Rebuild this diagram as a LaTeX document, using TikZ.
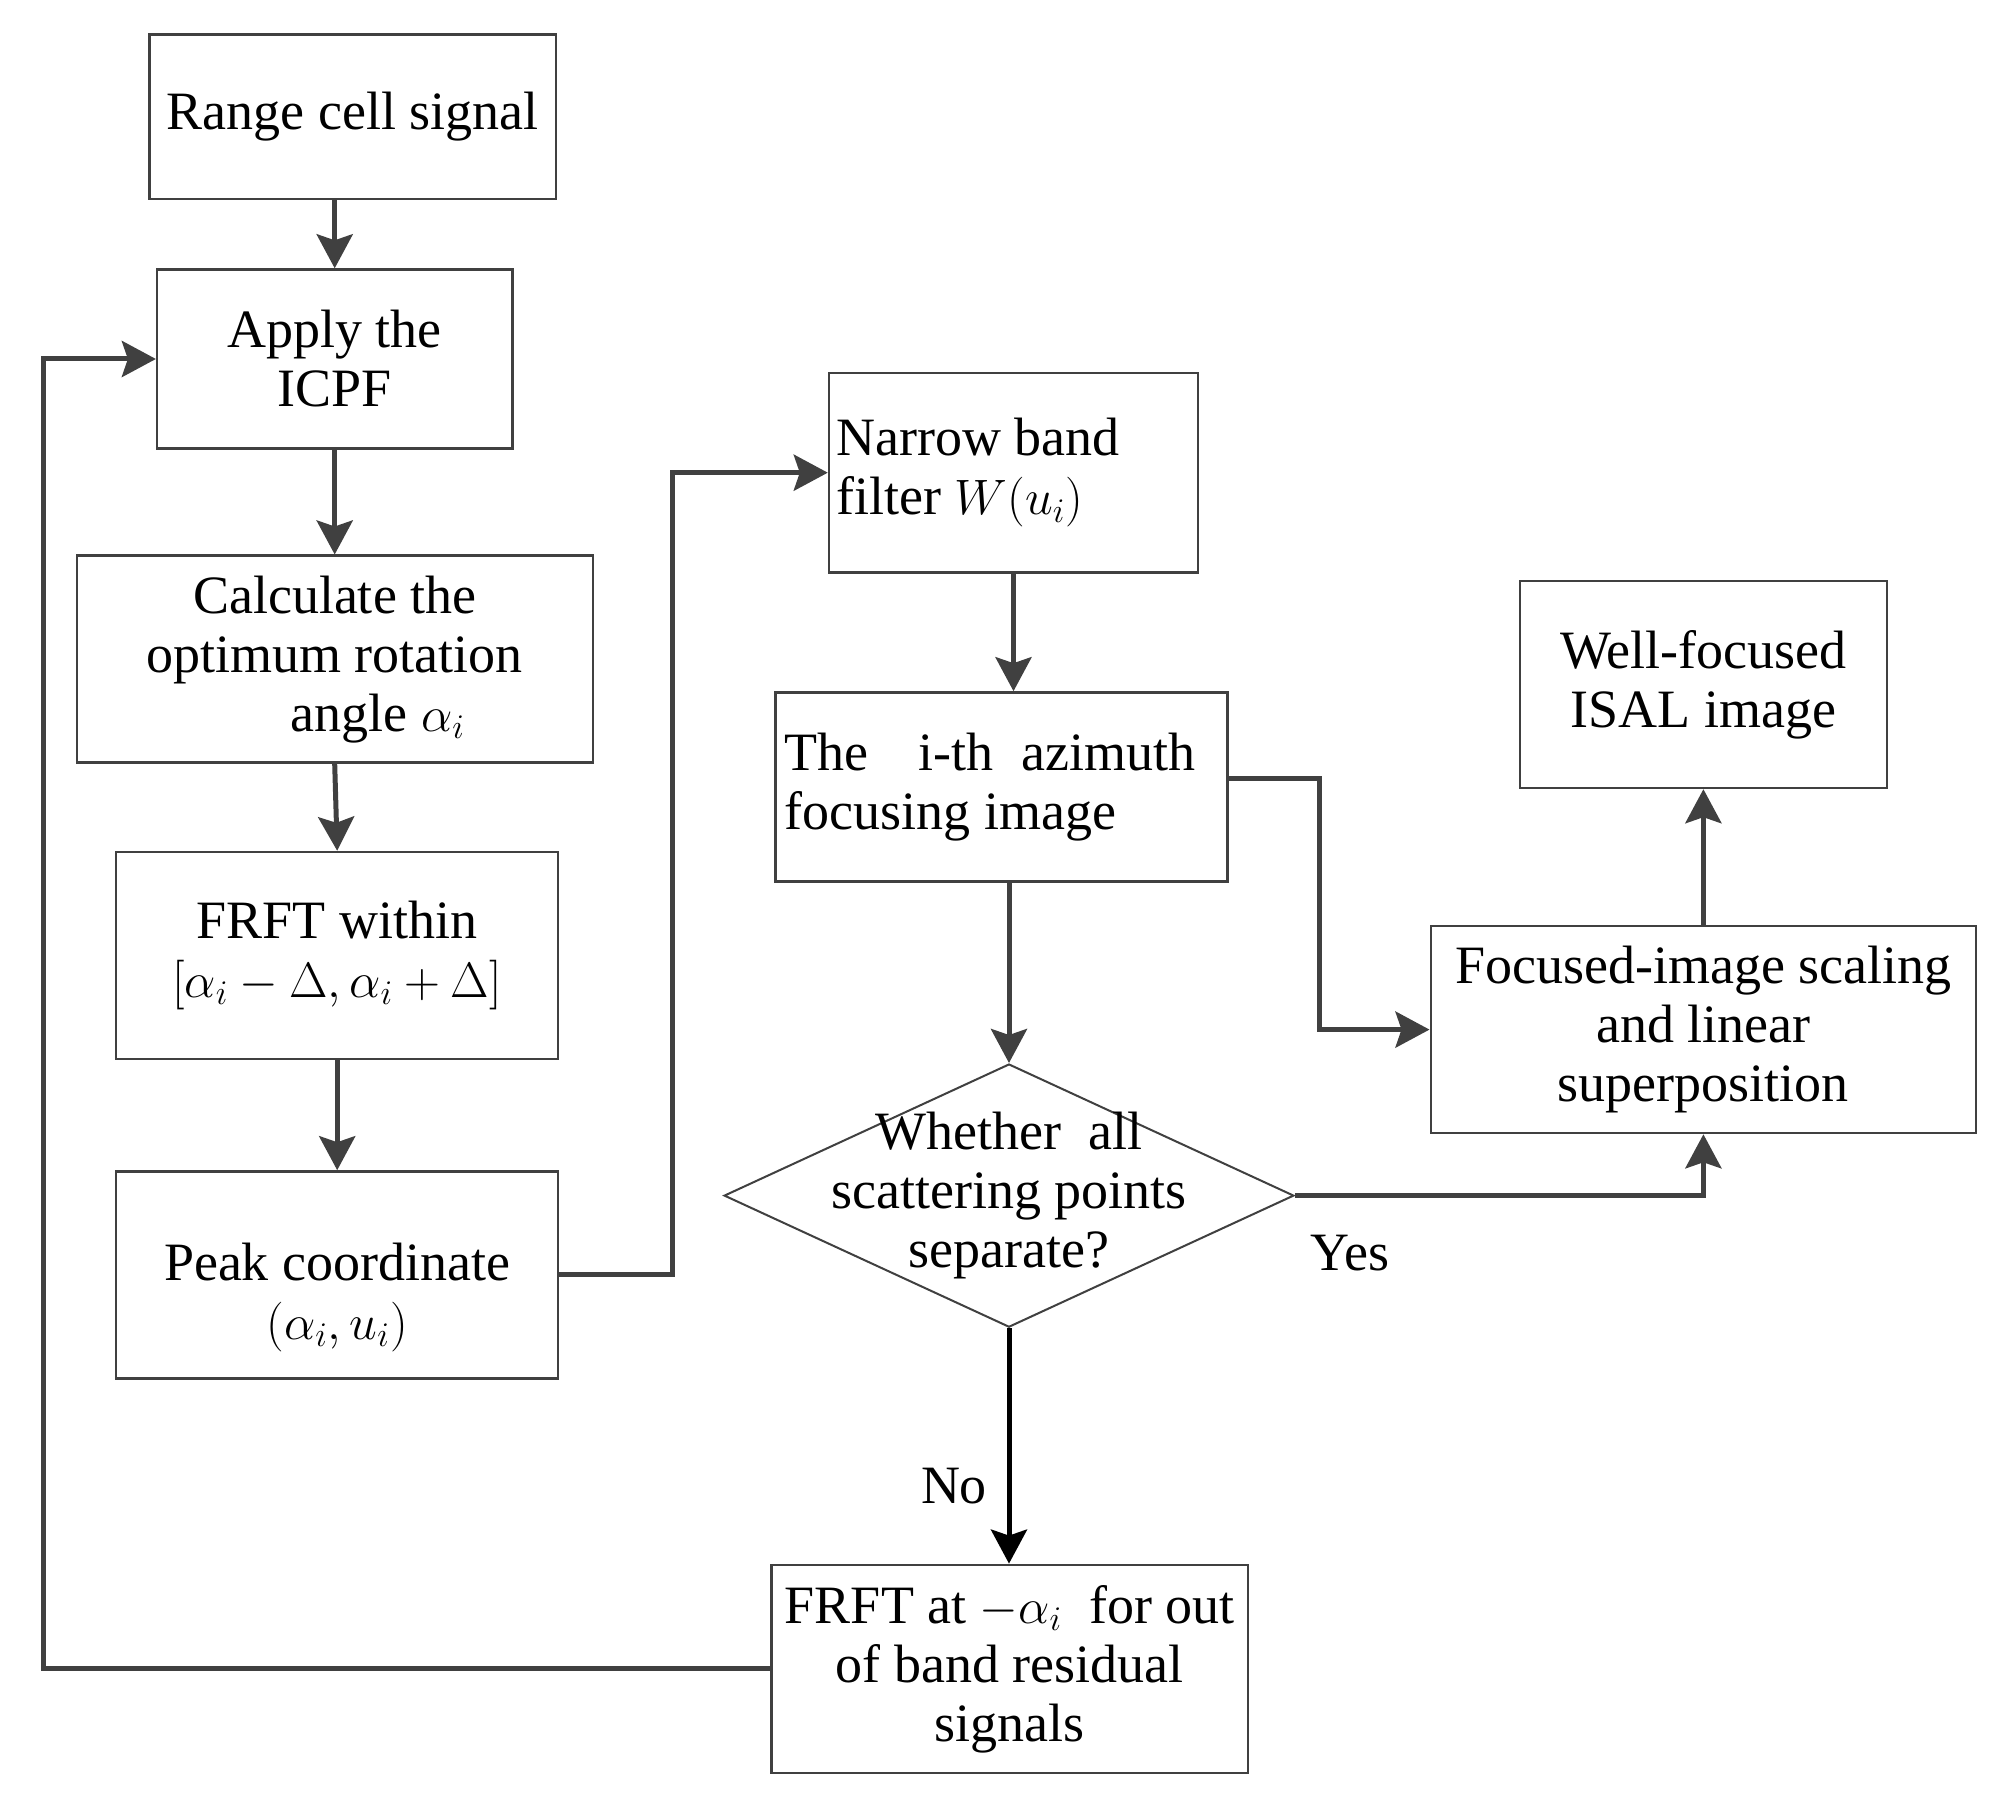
\documentclass[tikz,border=0pt]{standalone}
\usepackage{fontspec}
\setmainfont{Liberation Serif}
\usetikzlibrary{shapes.geometric,arrows.meta,calc}
\definecolor{lc}{HTML}{404040}
\begin{document}
\begin{tikzpicture}[x=0.5pt,y=-0.5pt,
  box/.style={draw=lc, line width=1.2pt, rectangle, inner sep=0pt, align=center, font=\fontsize{27}{29.5}\selectfont},
  txt/.style={inner sep=0pt, font=\fontsize{27}{29.5}\selectfont},
  arr/.style={draw=lc, line width=2.5pt, -{Stealth[length=17pt,width=18pt,inset=3pt]}},
  arrk/.style={draw=black, line width=2.5pt, -{Stealth[length=17pt,width=18pt,inset=3pt]}}]
\useasboundingbox (0,0) rectangle (2003,1807);

% boxes
\node[box, minimum width=203.1pt, minimum height=82.4pt] (b1) at (352.6,116.9) {Range cell signal};
\node[box, minimum width=177.6pt, minimum height=89.5pt] (b2) at (334.7,359) {Apply the\\ICPF};
\node[box, minimum width=258pt, minimum height=103.5pt] (b3) at (334.7,659.2) {Calculate the\\optimum rotation\\\hspace*{1.6em}angle $\alpha_i$};
\node[box, minimum width=221pt, minimum height=103.5pt] (b4) at (337.2,955.5) {FRFT within\\$[\alpha_i-\Delta,\alpha_i+\Delta]$};
\node[box, minimum width=221pt, minimum height=103.5pt] (b5) at (337.2,1274.9) {};
\node[txt, align=center] (b5t) at (337.2,1297) {Peak coordinate\\$(\alpha_i,u_i)$};
\node[box, minimum width=184.5pt, minimum height=99.7pt] (b6) at (1013.5,472.7) {};
\node[txt, anchor=west, align=left] (b6t) at ([xshift=4pt]b6.west) {Narrow band\\filter $W(u_i)$};
\node[box, minimum width=226.1pt, minimum height=94.5pt] (b7) at (1001.5,786.9) {};
\node[txt, anchor=west, align=left] (b7t) at ([xshift=5pt]b7.west) {The\hspace{25pt}i-th\hspace{14pt}azimuth\\focusing image};
\node[draw=lc, line width=1pt, diamond, inner sep=0pt, minimum width=284.9pt, minimum height=131.6pt] (dia) at (1009,1195.6) {};
\node[txt, align=center] (diat) at (dia.center) {Whether\ \ all\\scattering points\\separate?};
\node[box, minimum width=183.4pt, minimum height=103.4pt] (b9) at (1703.4,684.6) {Well-focused\\ISAL image};
\node[box, minimum width=272.7pt, minimum height=103.5pt] (b10) at (1703.4,1029.6) {Focused-image scaling\\and linear\\superposition};
\node[box, minimum width=238.2pt, minimum height=104.1pt] (b11) at (1009.8,1668.9) {FRFT at $-\alpha_i$\ \ for out\\of band residual\\signals};

% labels
\node[txt] (yes) at (1350,1253) {Yes};
\node[txt] (no) at (954,1486) {No};

% junctions
\coordinate (j1) at (672,1274.9);
\coordinate (j2) at (1319.5,1029.6);
\coordinate (j3) at (43.4,1668.9);

% connectors
\draw[arr] (b2.north |- b1.south) -- (b2.north);
\draw[arr] (b2.south) -- (b3.north);
\draw[arr] (b3.south) -- (b4.north);
\draw[arr] (b4.south) -- (b5.north);
\draw[arr] (b5.east) -- (j1) |- (b6.west);
\draw[arr] (b6.south) -- (b6.south |- b7.north);
\draw[arr] (dia.north |- b7.south) -- (dia.north);
\draw[arr] ([yshift=4pt]b7.east) -| (j2) -- (b10.west);
\draw[arr] (dia.east) -| (b10.south);
\draw[arr] (b10.north) -- (b9.south);
\draw[arrk] (dia.south) -- (dia.south |- b11.north);
\draw[arr] (b11.west) -- (j3) |- (b2.west);
\end{tikzpicture}
\end{document}
